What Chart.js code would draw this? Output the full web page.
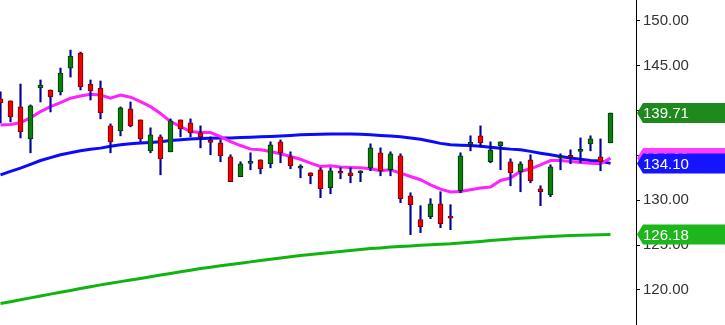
<!DOCTYPE html>
<html>
<head>
<meta charset="utf-8">
<script src="https://cdn.jsdelivr.net/npm/chart.js@4"></script>
<style>
  html, body { margin: 0; padding: 0; background: #fff; }
  canvas { display: block; }
</style>
</head>
<body>
<canvas id="chart" width="725" height="325"></canvas>
<script>
// OHLC of the daily candles, oldest first
const opens = [
  141.28,141.06,140.39,136.83,142.50,142.28,142.06,144.72,146.39,142.94,
  142.50,138.28,137.72,140.17,138.94,135.50,137.06,135.39,138.94,138.61,
  137.50,136.56,136.39,134.83,132.61,134.11,134.50,134.06,136.50,134.83,
  133.56,133.06,133.39,131.39,133.11,133.06,133.06,133.61,135.28,133.39,
  134.94,130.50,127.83,128.17,129.61,128.11,131.06,136.22,137.17,134.28,
  136.06,134.28,133.17,134.50,131.28,130.61,134.67,134.89,135.44,136.28,
  134.83,136.39
];
const highs = [
  142.06,141.06,142.94,140.61,143.39,142.28,144.72,146.72,146.50,143.39,
  143.28,138.50,140.39,140.94,138.94,138.06,137.28,139.06,138.94,139.06,
  138.28,137.06,136.72,135.06,134.28,135.28,134.50,136.50,136.72,135.39,
  133.94,133.06,133.61,133.61,133.61,133.61,133.28,136.28,135.83,135.39,
  135.17,130.83,129.39,130.17,130.94,129.50,135.28,137.17,138.28,136.50,
  136.50,134.61,134.28,135.06,131.61,133.94,135.17,135.61,136.94,137.17,
  136.83,139.71
];
const lows = [
  138.61,138.72,136.94,135.28,140.94,139.83,141.72,143.72,142.28,141.17,
  139.06,135.28,137.17,138.17,136.50,135.28,132.83,135.39,137.06,137.06,
  135.83,135.06,134.28,132.06,132.61,133.39,132.94,133.61,134.17,133.50,
  132.50,131.83,130.28,130.72,132.39,131.94,132.06,133.28,132.72,132.72,
  129.72,126.17,126.39,127.94,126.94,126.72,130.83,135.50,135.94,134.17,
  133.39,131.61,130.94,131.94,129.39,130.39,133.39,134.06,134.17,135.50,
  133.28,136.39
];
const closes = [
  140.83,139.28,137.61,140.50,142.83,141.50,144.17,146.06,142.61,142.17,
  139.72,136.50,140.28,138.28,136.83,137.28,134.61,138.83,137.94,137.50,
  137.06,136.44,134.94,132.06,134.06,134.22,133.50,136.17,135.28,133.83,
  133.67,132.72,131.28,133.28,133.00,132.72,133.28,135.83,133.28,135.17,
  130.17,129.50,127.06,129.61,127.39,128.00,134.94,136.33,136.39,135.61,
  136.50,133.06,134.06,132.17,130.94,133.72,134.78,134.78,135.56,136.83,
  134.28,139.71
];

// moving averages
const maFast = [
  138.39,138.44,138.64,139.17,139.87,140.42,140.87,141.36,141.61,141.80,
  141.72,141.36,141.72,141.47,140.98,140.42,139.65,138.76,138.20,137.64,
  137.53,137.53,137.09,136.53,136.09,135.69,135.61,135.42,135.17,134.87,
  134.56,134.13,133.76,133.83,133.69,133.64,133.61,133.50,133.28,133.39,
  133.02,132.64,132.28,131.72,131.24,130.91,130.98,131.17,131.36,131.47,
  132.20,132.47,133.20,133.50,133.94,134.42,134.42,134.31,134.20,134.13,
  134.06,134.69
];
const maMid = [
  132.83,133.22,133.58,134.00,134.42,134.74,135.06,135.28,135.50,135.67,
  135.80,136.00,136.17,136.28,136.36,136.44,136.50,136.64,136.74,136.83,
  136.88,136.91,136.93,136.94,136.99,137.02,137.06,137.09,137.14,137.20,
  137.28,137.33,137.36,137.37,137.37,137.37,137.36,137.30,137.22,137.14,
  137.08,136.94,136.78,136.56,136.33,136.17,136.13,136.09,136.00,135.91,
  135.80,135.69,135.61,135.44,135.24,135.06,134.87,134.69,134.56,134.42,
  134.36,134.10
];
const maSlow = [
  118.50,118.70,118.91,119.12,119.33,119.54,119.74,119.94,120.16,120.36,
  120.57,120.74,120.93,121.11,121.29,121.48,121.66,121.83,122.02,122.20,
  122.39,122.54,122.69,122.83,122.99,123.13,123.28,123.43,123.57,123.70,
  123.83,123.94,124.06,124.17,124.28,124.39,124.50,124.61,124.69,124.78,
  124.84,124.91,124.98,125.04,125.10,125.14,125.23,125.32,125.41,125.51,
  125.60,125.69,125.76,125.82,125.89,125.96,126.01,126.06,126.10,126.13,
  126.16,126.18
];

const yTicks = [120, 125, 130, 135, 140, 145, 150];

const UP = '#0b7d0b', UP_EDGE = '#003a00';
const DOWN = '#f00000', DOWN_EDGE = '#7a0000';
const FONT = '"Liberation Sans", Arial, sans-serif';

const idx = opens.map((_, i) => i);
const isUp = idx.map(i => closes[i] >= opens[i]);

function lineData(arr) {
    return arr.map((v, i) => ({ x: i, y: v }));
}

// price tags on the right axis
const tagPlugin = {
    id: 'tags',
    afterDraw(chart) {
        const ctx = chart.ctx;
        const ys = chart.scales.y;
        const left = chart.chartArea.right + 1;
        const right = chart.width;
        const tags = [
            { v: maSlow[maSlow.length - 1], bg: '#1db61d' },
            { v: maFast[maFast.length - 1], bg: '#ff3cff' },
            { v: maMid[maMid.length - 1], bg: '#1414ff' },
            { v: closes[closes.length - 1], bg: '#1e8a1e' }
        ];
        ctx.save();
        ctx.font = '15px ' + FONT;
        ctx.textBaseline = 'middle';
        tags.forEach(t => {
            const y = ys.getPixelForValue(t.v);
            ctx.fillStyle = t.bg;
            ctx.beginPath();
            ctx.moveTo(left, y);
            ctx.lineTo(left + 6, y - 10);
            ctx.lineTo(right, y - 10);
            ctx.lineTo(right, y + 10);
            ctx.lineTo(left + 6, y + 10);
            ctx.closePath();
            ctx.fill();
            ctx.fillStyle = '#fff';
            ctx.fillText(t.v.toFixed(2), left + 6, y + 1);
        });
        ctx.restore();
    }
};

new Chart(document.getElementById('chart'), {
    type: 'bar',
    data: {
        datasets: [
            {
                type: 'bar', label: 'body', order: 1, grouped: false,
                data: idx.map(i => ({ x: i, y: [opens[i], closes[i]] })),
                backgroundColor: idx.map(i => isUp[i] ? UP : DOWN),
                borderColor: idx.map(i => isUp[i] ? UP_EDGE : DOWN_EDGE),
                borderWidth: 1, borderSkipped: false, barThickness: 5, minBarLength: 2
            },
            {
                type: 'bar', label: 'wick', order: 2, grouped: false,
                data: idx.map(i => ({ x: i, y: [lows[i], highs[i]] })),
                backgroundColor: '#00009a', borderWidth: 0, barThickness: 1.5
            },
            {
                type: 'line', label: 'fast', order: 3, data: lineData(maFast),
                borderColor: '#ff22ff', borderWidth: 3, pointRadius: 0, tension: 0
            },
            {
                type: 'line', label: 'mid', order: 4, data: lineData(maMid),
                borderColor: '#0a0aff', borderWidth: 3, pointRadius: 0, tension: 0
            },
            {
                type: 'line', label: 'slow', order: 5, data: lineData(maSlow),
                borderColor: '#10b410', borderWidth: 3, pointRadius: 0, tension: 0
            }
        ]
    },
    options: {
        responsive: false,
        animation: false,
        layout: { padding: 0 },
        plugins: { legend: { display: false }, tooltip: { enabled: false } },
        scales: {
            x: {
                type: 'linear', display: false, offset: false,
                min: -0.05, max: 63.55
            },
            y: {
                position: 'right',
                min: 116.1, max: 152.3,
                afterBuildTicks: s => { s.ticks = yTicks.map(v => ({ value: v })); },
                afterFit: s => { s.width = 89; s.paddingTop = 0; s.paddingBottom = 0; },
                border: { display: true, color: '#000', width: 1 },
                grid: { drawOnChartArea: false, drawTicks: true, tickLength: 4, color: '#000' },
                ticks: {
                    padding: 3, color: '#333',
                    font: { family: FONT, size: 15 },
                    callback: v => Number(v).toFixed(2)
                }
            }
        }
    },
    plugins: [tagPlugin]
});
</script>
</body>
</html>
